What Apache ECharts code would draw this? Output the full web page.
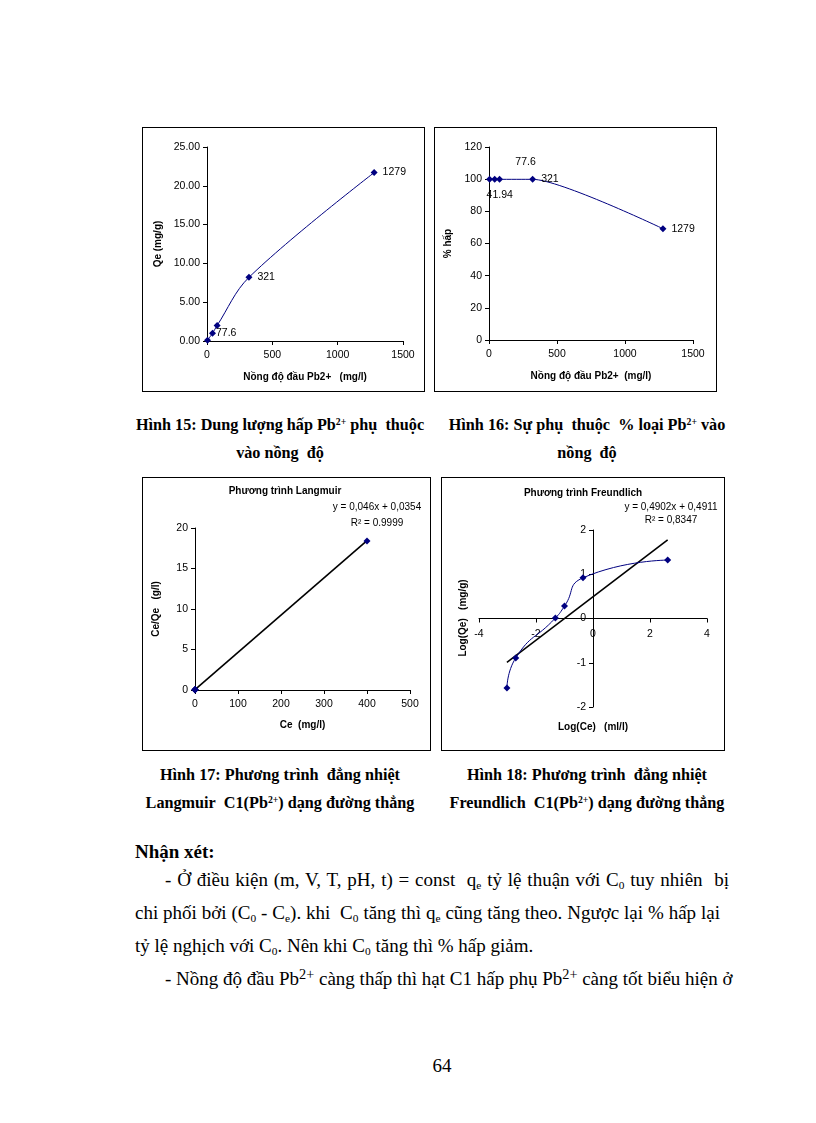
<!DOCTYPE html>
<html><head><meta charset="utf-8">
<script src="https://cdn.jsdelivr.net/npm/echarts@6/dist/echarts.min.js"></script>
<style>
html,body{margin:0;padding:0;background:#fff;}
body{width:816px;height:1123px;position:relative;overflow:hidden;font-family:'Liberation Serif','Times New Roman',serif;color:#000;}
.box{position:absolute;border:1px solid #000;box-sizing:border-box;background:#fff;}
.cap{position:absolute;width:440px;text-align:center;font-weight:bold;font-size:16.2px;line-height:28px;white-space:nowrap;}
sup{font-size:0.6em;vertical-align:0.5em;line-height:0;}
.body sup{font-size:0.75em;vertical-align:0.45em;}
sub{font-size:0.6em;vertical-align:-0.25em;line-height:0;}
.line{position:absolute;font-size:19px;line-height:33px;white-space:nowrap;}
.just{text-align:justify;text-align-last:justify;}
</style></head><body>
<div id="c1" class="box" style="left:142px;top:127px;width:283px;height:265px"></div>
<div id="c2" class="box" style="left:434px;top:127px;width:283px;height:265px"></div>
<div id="c3" class="box" style="left:142px;top:477px;width:289px;height:274px"></div>
<div id="c4" class="box" style="left:441px;top:477px;width:284px;height:274px"></div>

<div class="cap" style="left:60px;top:411px">Hình 15: Dung lượng hấp Pb<sup>2+</sup> phụ&nbsp; thuộc<br>vào nồng&nbsp; độ</div>
<div class="cap" style="left:367px;top:411px">Hình 16: Sự phụ&nbsp; thuộc&nbsp; % loại Pb<sup>2+</sup> vào<br>nồng&nbsp; độ</div>
<div class="cap" style="left:60px;top:761px">Hình 17: Phương trình&nbsp; đẳng nhiệt<br>Langmuir&nbsp; C1(Pb<sup>2+</sup>) dạng đường thẳng</div>
<div class="cap" style="left:367px;top:761px">Hình 18: Phương trình&nbsp; đẳng nhiệt<br>Freundlich&nbsp; C1(Pb<sup>2+</sup>) dạng đường thẳng</div>

<div class="line" style="top:835px;left:135px;font-weight:bold">Nhận xét:</div>
<div class="line body just" style="top:863px;left:165px;width:564px">- Ở điều kiện (m, V, T, pH, t) = const&nbsp; q<sub>e</sub> tỷ lệ thuận với C<sub>0</sub> tuy nhiên&nbsp; bị</div>
<div class="line body just" style="top:896px;left:135px;width:585px">chi phối bởi (C<sub>0</sub> - C<sub>e</sub>). khi&nbsp; C<sub>0</sub> tăng thì q<sub>e</sub> cũng tăng theo. Ngược lại % hấp lại</div>
<div class="line body" style="top:929px;left:135px">tỷ lệ nghịch với C<sub>0</sub>. Nên khi C<sub>0</sub> tăng thì % hấp giảm.</div>
<div class="line body" style="top:962px;left:165px">- Nồng độ đầu Pb<sup>2+</sup> càng thấp thì hạt C1 hấp phụ Pb<sup>2+</sup> càng tốt biểu hiện ở</div>
<div class="line" style="top:1049px;left:392px;width:100px;text-align:center">64</div>

<script>
// ---------- data ----------
const c0 = [4, 41.94, 77.6, 321, 1279];
const qe = [0.09, 1.0, 2.0, 8.2, 21.7];
const qeLabels = ['', '77.6', '', '321', '1279'];
const percentAds = [99.9, 99.9, 99.9, 99.9, 69.2];
const percentLabels = ['', '41.94', '77.6', '321', '1279'];
const ce = [0.001, 0.002, 0.05, 0.1, 0.45, 400];
const ceOverQe = [0.03, 0.015, 0.05, 0.05, 0.05, 18.4];
const langmuirSlope = 0.046, langmuirIntercept = 0.0354;
const logCe = [-3.02, -2.71, -1.32, -1.0, -0.35, 2.62];
const logQe = [-1.57, -0.89, 0.01, 0.28, 0.92, 1.32];
const freundSlope = 0.4902, freundIntercept = 0.4911;
const xTicks1 = [0, 500, 1000, 1500];
const yTicks1 = [0, 5, 10, 15, 20, 25];
const yTicks2 = [0, 20, 40, 60, 80, 100, 120];
const xTicks3 = [0, 100, 200, 300, 400, 500];
const yTicks3 = [0, 5, 10, 15, 20];
const xTicks4 = [-4, -2, 0, 2, 4];
const yTicks4 = [-2, -1, 0, 1, 2];

// ---------- styles ----------
const FONT = 'Liberation Sans';
const NAVY = '#000080';
const TICK_FS = 10.5;
function axis(ticks, o) {
  return {
    type: 'value',
    min: ticks[0], max: ticks[ticks.length - 1], interval: ticks[1] - ticks[0],
    offset: o.offset || 0,
    axisLine: {show: true, onZero: false, lineStyle: {color: '#000', width: 1}},
    axisTick: {show: true, inside: false, length: 4, lineStyle: {color: '#000', width: 1}},
    axisLabel: {color: '#000', fontSize: TICK_FS, fontFamily: FONT, margin: o.margin || 8,
                formatter: o.fmt || (v => String(v))},
    splitLine: {show: false},
    name: o.name || '', nameLocation: 'middle', nameGap: o.nameGap || 30,
    nameTextStyle: {color: '#000', fontSize: 10, fontWeight: 'bold', fontFamily: FONT}
  };
}
function lblRight(text, dist) {
  return {show: true, formatter: text, position: 'right', distance: dist,
          color: '#000', fontSize: 10.5, fontFamily: FONT};
}
function lblAt(text, dx, dy) {
  return {show: true, formatter: text, position: 'inside', offset: [dx, dy],
          color: '#000', fontSize: 10.5, fontFamily: FONT};
}
function dataSeries(xs, ys, labels, smooth) {
  return {
    type: 'line', smooth: smooth, symbol: 'diamond', symbolSize: 7,
    itemStyle: {color: NAVY}, lineStyle: {color: NAVY, width: 1},
    label: {show: false}, emphasis: {disabled: true}, silent: true, z: 3,
    data: xs.map((x, i) => {
      const d = {value: [x, ys[i]]};
      if (labels && labels[i]) d.label = labels[i];
      return d;
    })
  };
}
function trendSeries(xs, slope, intercept) {
  const lo = Math.min(...xs), hi = Math.max(...xs);
  return {
    type: 'line', symbol: 'none', silent: true, z: 2,
    lineStyle: {color: '#000', width: 1.6},
    data: [[lo, slope * lo + intercept], [hi, slope * hi + intercept]]
  };
}
function gtext(text, x, y, o) {
  return Object.assign({type: 'text', x: x, y: y, silent: true,
    style: {text: text, fill: '#000', font: (o && o.bold ? 'bold ' : '') + '10px ' + FONT,
            textAlign: 'center', textVerticalAlign: 'middle'}}, o && o.el ? o.el : {});
}

// ---------- chart 1 ----------
const lab1 = qeLabels.map((t, i) => t ? lblRight(t, i === 1 ? 0 : 5) : null);
echarts.init(document.getElementById('c1')).setOption({
  animation: false,
  grid: {left: 64, top: 19, width: 196, height: 194},
  xAxis: axis(xTicks1, {name: 'Nồng độ đầu Pb2+   (mg/l)', nameGap: 31, margin: 9}),
  yAxis: axis(yTicks1, {name: 'Qe (mg/g)', nameGap: 31, margin: 7, fmt: v => v.toFixed(2)}),
  series: [dataSeries(c0, qe, lab1, 0.35)]
});

// ---------- chart 2 ----------
const lab2 = percentLabels.map((t, i) => {
  if (!t) return null;
  if (i === 1) return lblAt(t, 5, 16);
  if (i === 2) return lblAt(t, 26, -17);
  return lblRight(t, 5);
});
echarts.init(document.getElementById('c2')).setOption({
  animation: false,
  grid: {left: 54, top: 19, width: 204, height: 193},
  xAxis: axis(xTicks1, {name: 'Nồng độ đầu Pb2+  (mg/l)', nameGap: 31, margin: 9}),
  yAxis: axis(yTicks2, {name: '% hấp', nameGap: 23, margin: 7}),
  series: [dataSeries(c0, percentAds, lab2, 0.2)]
});

// ---------- chart 3 ----------
echarts.init(document.getElementById('c3')).setOption({
  animation: false,
  grid: {left: 49, top: 50, width: 218, height: 162},
  xAxis: axis(xTicks3, {name: 'Ce  (mg/l)', nameGap: 30, margin: 9}),
  yAxis: axis(yTicks3, {name: 'Ce/Qe   (g/l)', nameGap: 34, margin: 7}),
  graphic: [
    gtext('Phương trình Langmuir', 142, 13, {bold: true}),
    gtext('y = 0,046x + 0,0354', 234, 29),
    gtext('R² = 0.9999', 234, 45)
  ],
  series: [
    trendSeries(ce, langmuirSlope, langmuirIntercept),
    Object.assign(dataSeries(ce, ceOverQe, null, false), {lineStyle: {width: 0, opacity: 0}})
  ]
});

// ---------- chart 4 (axes crossing at zero) ----------
const g4 = {left: 37, top: 52, width: 228, height: 177};
const span = t => t[t.length - 1] - t[0];
const xAxisShift = -((0 - yTicks4[0]) / span(yTicks4)) * g4.height;  // move x axis up to y = 0
const yAxisShift = -((0 - xTicks4[0]) / span(xTicks4)) * g4.width;   // move y axis right to x = 0
echarts.init(document.getElementById('c4')).setOption({
  animation: false,
  grid: g4,
  xAxis: axis(xTicks4, {offset: xAxisShift, margin: 10}),
  yAxis: axis(yTicks4, {offset: yAxisShift, margin: 7}),
  graphic: [
    gtext('Phương trình Freundlich', 141, 15, {bold: true}),
    gtext('y = 0,4902x + 0,4911', 229, 29),
    gtext('R² = 0,8347', 229, 42),
    gtext('Log(Qe)   (mg/g)', 21, 140, {bold: true, el: {rotation: Math.PI / 2}}),
    gtext('Log(Ce)   (ml/l)', 151, 249, {bold: true})
  ],
  series: [
    trendSeries(logCe, freundSlope, freundIntercept),
    dataSeries(logCe, logQe, null, 0.55)
  ]
});
</script>
</body></html>
